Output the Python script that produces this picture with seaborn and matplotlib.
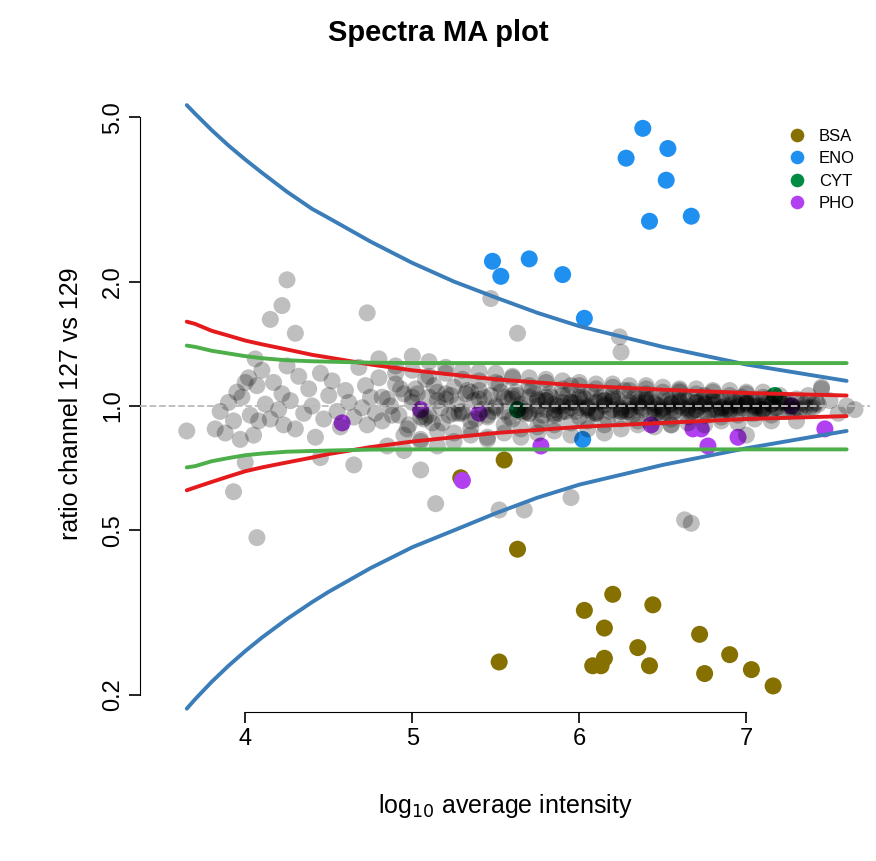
import numpy as np
import pandas as pd
import seaborn as sns
import matplotlib
matplotlib.use("Agg")
import matplotlib.pyplot as plt

# background proteins (log10 intensity, ratio)
bg_x = [3.65, 3.82, 3.85, 3.88, 3.9, 3.93, 3.95, 3.97, 3.98, 4.0, 4.02, 4.03, 4.05, 4.06, 4.07, 4.08,
        4.1, 4.12, 4.15, 4.17, 4.2, 4.22, 4.23, 4.25, 4.27, 4.3, 4.32, 4.35, 4.38, 4.4, 4.42, 4.45,
        4.47, 4.5, 4.52, 4.55, 4.57, 4.6, 4.62, 4.65, 4.68, 4.7, 4.72, 4.73, 4.75, 4.78, 4.8, 4.82,
        4.85, 4.87, 4.9, 4.92, 4.95, 4.97, 5.0, 5.02, 5.05, 5.07, 5.08, 5.1, 5.12, 5.15, 5.17, 5.2,
        5.22, 5.25, 5.27, 5.3, 5.32, 5.35, 5.37, 5.4, 5.42, 5.45, 5.47, 5.5, 5.52, 5.55, 5.57, 5.6,
        5.62, 5.65, 5.67, 5.7, 5.72, 5.75, 5.77, 5.8, 5.82, 5.85, 5.87, 5.9, 5.92, 5.95, 5.97, 6.0,
        6.02, 6.05, 6.07, 6.1, 6.12, 6.15, 6.17, 6.2, 6.22, 6.25, 6.27, 6.3, 6.32, 6.35, 6.37, 6.4,
        6.42, 6.45, 6.47, 6.5, 6.52, 6.55, 6.57, 6.6, 6.62, 6.65, 6.67, 6.7, 6.72, 6.75, 6.77, 6.8,
        6.82, 6.85, 6.87, 6.9, 6.92, 6.95, 6.97, 7.0, 7.02, 7.05, 7.07, 7.1, 7.12, 7.15, 7.17, 7.2,
        7.22, 7.25, 7.27, 7.3, 7.32, 7.35, 7.37, 7.4, 7.42, 7.45, 7.5, 7.55, 7.6,
        4.9, 4.95, 5.0, 5.05, 5.1, 5.15, 5.2, 5.25, 5.3, 5.35, 5.4, 5.45, 5.5, 5.55, 5.6, 5.65,
        5.7, 5.75, 5.8, 5.85, 5.9, 5.95, 6.0, 6.05, 6.1, 6.15, 6.2, 6.25, 6.3, 6.35, 6.4, 6.45,
        6.5, 6.55, 6.6, 6.65, 6.7, 6.75, 6.8, 6.85, 6.9, 6.95, 7.0, 7.05, 7.1, 7.15, 7.2, 7.25,
        5.0, 5.1, 5.2, 5.3, 5.4, 5.5, 5.6, 5.7, 5.8, 5.9, 6.0, 6.1, 6.2, 6.3, 6.4, 6.5, 6.6, 6.7,
        6.8, 6.9, 7.0, 7.1, 7.2, 7.3, 7.4,
        5.05, 5.15, 5.25, 5.35, 5.45, 5.55, 5.65, 5.75, 5.85, 5.95, 6.05, 6.15, 6.25, 6.35, 6.45,
        6.55, 6.65, 6.75, 6.85, 6.95, 7.05, 7.15, 7.25, 7.35,
        5.75, 5.85, 5.95, 6.05, 6.15, 6.25, 6.35, 6.45, 6.55, 6.65, 6.75, 6.85, 6.95, 7.05, 7.15,
        5.8, 5.9, 6.0, 6.1, 6.2, 6.3, 6.4, 6.5, 6.6, 6.7, 6.8, 6.9, 7.0, 7.1,
        4.25, 4.22, 4.15, 4.73, 5.47, 5.63, 6.24, 6.63, 5.52, 5.67, 5.95, 6.67, 6.25, 4.07, 3.93,
        5.14, 5.05, 4.65, 4.45, 4.0, 4.3, 6.55, 7.0, 7.3, 7.45, 7.65,
        4.8, 4.85, 4.9, 4.95, 5.0, 5.05, 5.1, 5.15, 5.2, 5.25, 5.3, 5.35, 5.4, 5.45, 5.5, 5.55,
        5.6, 5.65, 5.7, 5.75, 5.8, 5.85, 5.9, 5.95, 6.0, 6.05, 6.1, 6.15, 6.2, 6.25, 6.3, 6.35,
        6.4, 6.45, 6.5, 6.55, 6.6, 6.65, 6.7, 6.75, 6.8, 6.85, 6.9, 6.95, 7.0, 7.05, 7.1, 7.15,
        4.82, 4.88, 4.93, 4.98, 5.03, 5.08, 5.13, 5.18, 5.23, 5.28, 5.33, 5.38, 5.43, 5.48, 5.53,
        5.58, 5.63, 5.68, 5.73, 5.78, 5.83, 5.88, 5.93, 5.98, 6.03, 6.08, 6.13, 6.18, 6.23, 6.28,
        6.33, 6.38, 6.43, 6.48, 6.53, 6.58, 6.63, 6.68, 6.73, 6.78, 6.83, 6.88, 6.93, 6.98, 7.03,
        7.08, 7.13, 7.18, 7.23, 7.28, 7.33, 7.38, 7.43,
        5.6, 5.7, 5.8, 5.9, 6.0, 6.1, 6.2, 6.3, 6.4, 6.5, 6.6, 6.7, 6.8, 6.9, 7.0, 7.1, 7.2,
        5.65, 5.75, 5.85, 5.95, 6.05, 6.15, 6.25, 6.35, 6.45, 6.55, 6.65, 6.75, 6.85, 6.95, 7.05]
bg_y = [0.87, 0.88, 0.97, 0.86, 1.02, 0.92, 1.08, 0.83, 1.05, 1.14, 1.17, 0.95, 0.85, 1.3, 1.12, 0.92,
        1.22, 1.01, 0.93, 1.14, 0.98, 1.07, 0.9, 1.25, 1.03, 0.88, 1.18, 0.96, 1.1, 1.0, 0.84, 1.2,
        0.93, 1.06, 1.15, 0.97, 0.89, 1.09, 1.02, 0.94, 1.24, 0.99, 1.12, 0.9, 1.05, 0.96, 1.17, 0.92,
        1.04, 1.0, 1.13, 0.95, 1.07, 0.88, 1.02, 1.1, 0.97, 0.93, 1.16, 1.05, 0.91, 1.08, 0.99, 1.04,
        0.95, 1.11, 1.01, 0.96, 1.07, 0.92, 1.03, 1.09, 0.98, 0.94, 1.06, 1.0, 1.13, 0.97, 1.04, 0.93,
        1.08, 1.01, 0.96, 1.05, 1.1, 0.98, 0.92, 1.03, 1.07, 0.95, 1.0, 1.06, 0.97, 1.12, 1.02, 0.94,
        1.05, 0.99, 1.08, 0.96, 1.03, 1.0, 0.93, 1.06, 1.01, 0.97, 1.09, 1.02, 0.95, 1.04, 0.99, 1.07,
        0.96, 1.02, 1.0, 0.94, 1.05, 1.01, 0.97, 1.08, 0.99, 1.03, 0.96, 1.02, 1.0, 1.06, 0.95, 1.01,
        0.98, 1.04, 1.0, 0.97, 1.03, 0.99, 1.05, 1.01, 0.96, 1.02, 1.0, 0.98, 1.04, 1.01, 0.99, 1.03,
        0.97, 1.02, 1.0, 1.04, 0.98, 1.01, 1.06, 0.99, 1.02, 1.11, 1.03, 0.96, 1.0,
        1.2, 0.85, 1.22, 0.82, 1.18, 0.87, 1.2, 0.86, 1.16, 0.88, 1.15, 0.84, 1.14, 0.9, 1.17, 0.88,
        1.12, 0.89, 1.14, 0.9, 1.1, 0.91, 1.12, 0.92, 1.1, 0.9, 1.11, 0.93, 1.09, 0.92, 1.1, 0.94,
        1.08, 0.93, 1.09, 0.94, 1.07, 0.95, 1.08, 0.94, 1.06, 0.95, 1.07, 0.96, 1.05, 0.95, 1.06, 0.97,
        1.05, 0.95, 1.07, 0.97, 1.04, 0.99, 1.06, 0.96, 1.03, 1.0, 1.05, 0.97, 1.04, 0.98, 1.03, 0.99,
        1.02, 0.98, 1.03, 0.99, 1.01, 1.0, 1.02, 0.99, 1.01,
        0.94, 1.03, 0.96, 1.08, 0.95, 1.05, 0.97, 1.04, 0.96, 1.02, 0.98, 1.03, 0.97, 1.01, 0.98,
        1.02, 0.99, 1.01, 0.98, 1.0, 0.99, 1.01, 1.0, 0.99,
        1.0, 1.01, 0.99, 1.0, 1.01, 0.99, 1.0, 1.01, 0.99, 1.0, 1.01, 0.99, 1.0, 1.0, 1.01,
        0.98, 1.02, 0.99, 1.02, 0.98, 1.0, 1.02, 0.98, 1.0, 1.02, 0.98, 1.0, 1.02, 0.98,
        2.02, 1.75, 1.62, 1.68, 1.82, 1.5, 1.47, 0.53, 0.56, 0.56, 0.6, 0.52, 1.35, 0.48, 0.62,
        0.58, 0.7, 0.72, 0.75, 0.73, 1.5, 0.9, 0.85, 0.92, 1.1, 0.98,
        1.3, 0.8, 1.25, 0.78, 1.32, 0.83, 1.28, 0.8, 1.24, 0.82, 1.22, 0.85, 1.21, 0.83, 1.2, 0.86,
        1.18, 0.84, 1.17, 0.86, 1.16, 0.87, 1.15, 0.85, 1.14, 0.88, 1.13, 0.86, 1.13, 0.88, 1.12, 0.9,
        1.12, 0.89, 1.11, 0.9, 1.1, 0.91, 1.1, 0.9, 1.09, 0.92, 1.09, 0.91, 1.08, 0.93, 1.08, 0.92,
        1.05, 0.95, 1.1, 0.9, 1.07, 0.94, 1.12, 0.91, 1.06, 0.96, 1.09, 0.93, 1.05, 0.97, 1.08,
        0.94, 1.06, 0.97, 1.07, 0.95, 1.05, 0.96, 1.06, 0.97, 1.04, 0.96, 1.05, 0.97, 1.04, 0.97,
        1.05, 0.98, 1.04, 0.97, 1.03, 0.98, 1.04, 0.97, 1.03, 0.98, 1.03, 0.98, 1.02, 0.99, 1.03,
        0.98, 1.02, 0.99, 1.02, 0.98, 1.02, 0.99, 1.01,
        1.04, 0.96, 1.05, 0.97, 1.04, 0.96, 1.03, 0.97, 1.04, 0.97, 1.03, 0.98, 1.03, 0.98, 1.02, 0.98, 1.02,
        0.99, 1.03, 0.98, 1.02, 0.99, 1.03, 0.98, 1.02, 0.99, 1.01, 0.98, 1.02, 0.99, 1.01, 1.0]

groups = ["BSA", "ENO", "CYT", "PHO"]
palette = {"BSA": "#857000", "ENO": "#2090F0", "CYT": "#008C45", "PHO": "#B040F0"}
bsa_x = [5.29, 5.55, 5.52, 5.63, 6.03, 6.2, 6.15, 6.44, 6.35, 6.08, 6.13, 6.15, 6.42, 6.72, 6.75, 6.9, 7.03, 7.16]
bsa_y = [0.67, 0.74, 0.24, 0.45, 0.32, 0.35, 0.29, 0.33, 0.26, 0.235, 0.235, 0.245, 0.235, 0.28, 0.225, 0.25, 0.23, 0.21]
eno_x = [6.38, 6.28, 6.53, 6.52, 6.42, 6.67, 5.48, 5.53, 5.7, 5.9, 6.03, 6.02]
eno_y = [4.7, 3.98, 4.2, 3.52, 2.8, 2.88, 2.24, 2.06, 2.27, 2.08, 1.63, 0.83]
cyt_x = [5.63, 7.17]
cyt_y = [0.98, 1.06]
pho_x = [4.58, 5.3, 5.05, 5.77, 6.43, 6.68, 6.73, 6.77, 6.95, 7.27, 7.47, 5.4]
pho_y = [0.91, 0.66, 0.98, 0.8, 0.9, 0.88, 0.88, 0.8, 0.84, 1.0, 0.88, 0.96]

# limit curves
cx = [3.65, 3.7, 3.8, 3.9, 4.0, 4.1, 4.25, 4.4, 4.5, 4.75, 5.0, 5.25, 5.5, 5.75, 6.0, 6.5, 7.0, 7.6]
blue_hi = [5.35, 5.1, 4.65, 4.27, 3.95, 3.67, 3.3, 3.0, 2.85, 2.5, 2.22, 2.0, 1.83, 1.68, 1.56, 1.39, 1.26, 1.15]
blue_lo = [0.185, 0.195, 0.215, 0.235, 0.255, 0.275, 0.305, 0.335, 0.355, 0.405, 0.455, 0.5, 0.55, 0.6, 0.645, 0.72, 0.79, 0.87]
red_hi = [1.6, 1.58, 1.52, 1.48, 1.44, 1.41, 1.37, 1.33, 1.31, 1.26, 1.22, 1.19, 1.16, 1.14, 1.12, 1.095, 1.075, 1.06]
red_lo = [0.625, 0.635, 0.655, 0.675, 0.695, 0.71, 0.73, 0.75, 0.765, 0.795, 0.82, 0.84, 0.86, 0.875, 0.89, 0.91, 0.93, 0.945]
green_hi = [1.4, 1.39, 1.36, 1.34, 1.32, 1.305, 1.29, 1.283, 1.28, 1.273, 1.27, 1.27, 1.27, 1.27, 1.27, 1.27, 1.27, 1.27]
green_lo = [0.71, 0.715, 0.735, 0.748, 0.76, 0.767, 0.775, 0.778, 0.78, 0.784, 0.785, 0.785, 0.785, 0.785, 0.785, 0.785, 0.785, 0.785]

sns.set_style("ticks")
plt.rcParams['font.family'] = ['Liberation Sans', 'DejaVu Sans']
plt.rcParams['text.color'] = 'black'
plt.rcParams['axes.labelcolor'] = 'black'
plt.rcParams['xtick.color'] = 'black'
plt.rcParams['ytick.color'] = 'black'
plt.rcParams['axes.edgecolor'] = 'black'
fig = plt.figure(figsize=(8.76, 8.61), dpi=100)
ax = fig.add_axes([140 / 876, 1 - 712 / 861, 730 / 876, 617 / 861])

hl = pd.DataFrame({"x": bsa_x + eno_x + cyt_x + pho_x,
                   "y": bsa_y + eno_y + cyt_y + pho_y,
                   "g": ["BSA"] * len(bsa_x) + ["ENO"] * len(eno_x) + ["CYT"] * len(cyt_x) + ["PHO"] * len(pho_x)})
sns.scatterplot(data=hl, x="x", y="y", hue="g", hue_order=groups, palette=palette, s=150,
                edgecolor="none", ax=ax, zorder=2)

bg = pd.DataFrame({"x": bg_x, "y": bg_y})
sns.scatterplot(data=bg, x="x", y="y", color="black", alpha=0.25, s=150, edgecolor="none", ax=ax, zorder=3)

n = len(cx)
curves = pd.DataFrame({"x": cx * 6,
                       "y": blue_hi + blue_lo + red_hi + red_lo + green_hi + green_lo,
                       "c": ["bh"] * n + ["bl"] * n + ["rh"] * n + ["rl"] * n + ["gh"] * n + ["gl"] * n})
cpal = {"bh": "#3A7DB8", "bl": "#3A7DB8", "rh": "#E41A1C", "rl": "#E41A1C", "gh": "#4DAF4A", "gl": "#4DAF4A"}
sns.lineplot(data=curves, x="x", y="y", hue="c", palette=cpal, lw=2.8, legend=False, ax=ax, zorder=4)
ax.axhline(1.0, color="#BBBBBB", ls="--", lw=1.3, zorder=5)

ax.set_yscale("log")
ax.set_xlim(3.37, 7.74)
ax.set_ylim(0.1816, 5.66)
ax.set_yticks([0.2, 0.5, 1.0, 2.0, 5.0])
ax.set_yticklabels(["0.2", "0.5", "1.0", "2.0", "5.0"], rotation=90, va="center")
ax.yaxis.set_minor_locator(matplotlib.ticker.NullLocator())
ax.set_xticks([4, 5, 6, 7])
ax.tick_params(labelsize=17, length=8, width=1.2)
ax.spines["left"].set_bounds(0.2, 5.0)
ax.spines["bottom"].set_bounds(4, 7)
for s in ["top", "right"]:
    ax.spines[s].set_visible(False)
ax.set_xlabel("log$_{10}$ average intensity", fontsize=18, labelpad=30)
ax.set_ylabel("ratio channel 127 vs 129", fontsize=18, labelpad=14)
fig.suptitle("Spectra MA plot", fontsize=21, fontweight="bold", y=0.978)
ax.legend(title=None, frameon=False, loc="upper right", fontsize=12, markerscale=0.8,
          handletextpad=0.3, labelspacing=0.45, bbox_to_anchor=(1.0, 0.97))
fig.savefig("out.png", dpi=100)
